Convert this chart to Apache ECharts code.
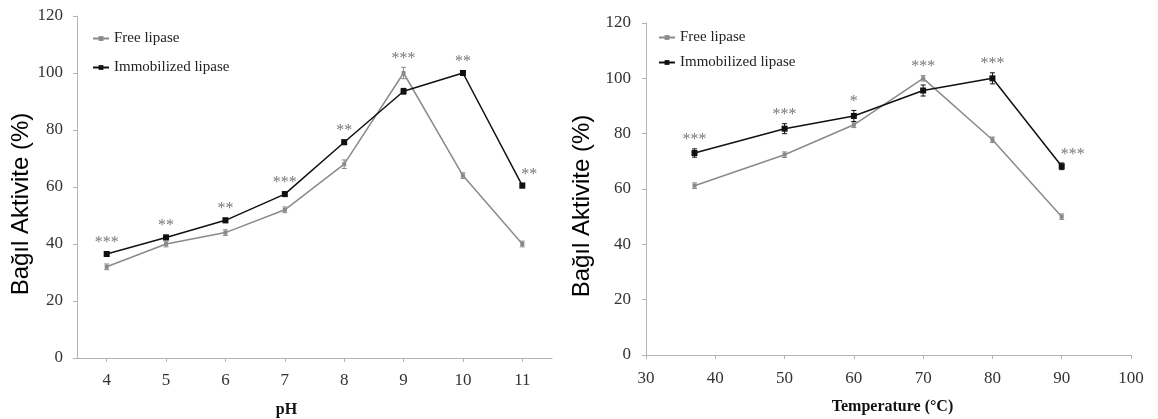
<!DOCTYPE html>
<html>
<head>
	<meta charset="utf-8">
	<title>Bağıl Aktivite</title>
	<style type="text/css">
		body{
			margin: 0px;
			background: #fff;
		}
		.chart{
			width: 1158px;
			height: 419px;
		}
	</style>
	<script type="text/javascript" src="https://cdn.jsdelivr.net/npm/echarts@6/dist/echarts.min.js"></script>
</head>
<body>
	<div id="chart" class="chart"></div>
	<script type="text/javascript">
		// pH chart
		var phLabels = ['4', '5', '6', '7', '8', '9', '10', '11'];
		var phFree = [32, 40, 44, 52, 68, 100, 64, 40];
		var phFreeErr = [1, 1, 1, 1, 1.5, 2, 1, 1];
		var phImmob = [36.5, 42.3, 48.3, 57.5, 75.7, 93.6, 100, 60.5];
		var phImmobErr = [0.8, 0.8, 0.8, 0.8, 0.8, 1, 0.8, 0.8];
		var phSig = ['***', '**', '**', '***', '**', '***', '**', '**'];

		// temperature chart
		var temps = [37, 50, 60, 70, 80, 90];
		var tFree = [61.2, 72.4, 83.2, 100, 77.8, 50];
		var tFreeErr = [1, 1, 1, 1, 1, 1];
		var tImmob = [73, 81.8, 86.4, 95.6, 100, 68.2];
		var tImmobErr = [1.5, 1.8, 2, 2, 2, 1.2];
		var tSig = ['***', '***', '*', '***', '***', '***'];

		var freeColor = '#8a8a8a';
		var immobColor = '#111';
		var serif = 'Liberation Serif';

		function pairs(xs, ys){
			return ys.map(function(y, i){ return [xs[i], y]; });
		}
		function errData(xs, ys, es){
			return ys.map(function(y, i){ return [xs[i], y - es[i], y + es[i]]; });
		}
		function errRender(color){
			return function(params, api){
				var lo = api.coord([api.value(0), api.value(1)]);
				var hi = api.coord([api.value(0), api.value(2)]);
				var w = 2.5;
				var st = {stroke: color, lineWidth: 1};
				return {
					type: 'group',
					children: [
						{type: 'line', shape: {x1: lo[0], y1: lo[1], x2: hi[0], y2: hi[1]}, style: st},
						{type: 'line', shape: {x1: lo[0] - w, y1: lo[1], x2: lo[0] + w, y2: lo[1]}, style: st},
						{type: 'line', shape: {x1: hi[0] - w, y1: hi[1], x2: hi[0] + w, y2: hi[1]}, style: st}
					]
				};
			};
		}
		function sigData(xs, a, ae, b, be, sig){
			return xs.map(function(x, i){
				var top = Math.max(a[i] + ae[i], b[i] + be[i]);
				var item = {value: [x, top], label: {formatter: sig[i]}};
				if(i === xs.length - 1){
					item.label.position = 'right';
					item.label.offset = [-2, -8];
				}
				return item;
			});
		}

		var axisLineGray = {show: true, lineStyle: {color: '#b4b4b4', width: 1}};
		var tickLabel = {fontFamily: serif, fontSize: 17, color: '#333'};
		var yName = 'Bağıl Aktivite (%)';
		var yNameStyle = {fontFamily: 'Liberation Sans', fontSize: 24, color: '#000', padding: [0, 0, 0, -34]};

		window.onload = function(){
			var chart = echarts.init(document.getElementById('chart'));
			var phIdx = phLabels.map(function(l, i){ return i; });
			chart.setOption({
				animation: false,
				backgroundColor: '#fff',
				grid: [
					{left: 77, right: 606, top: 16, bottom: 61, outerBoundsMode: 'none'},
					{left: 646, right: 27, top: 23, bottom: 64, outerBoundsMode: 'none'}
				],
				legend: [
					{
						data: ['Free lipase', 'Immobilized lipase'],
						orient: 'vertical',
						left: 87, top: 26,
						itemGap: 14, itemWidth: 16, itemHeight: 6,
						textStyle: {fontFamily: serif, fontSize: 15, color: '#222'}
					},
					{
						data: ['Free lipase ', 'Immobilized lipase '],
						orient: 'vertical',
						left: 653, top: 25,
						itemGap: 10, itemWidth: 16, itemHeight: 6,
						textStyle: {fontFamily: serif, fontSize: 15, color: '#222'}
					}
				],
				xAxis: [
					{
						gridIndex: 0, type: 'category', data: phLabels,
						boundaryGap: true,
						axisLine: axisLineGray,
						axisTick: {show: true, alignWithLabel: true, length: 4, lineStyle: {color: '#b4b4b4'}},
						axisLabel: Object.assign({margin: 14}, tickLabel),
						name: 'pH', nameLocation: 'middle', nameGap: 44,
						nameTextStyle: {fontFamily: serif, fontSize: 16, fontWeight: 'bold', color: '#111', padding: [0, 56, 0, 0]}
					},
					{
						gridIndex: 1, type: 'value', min: 30, max: 100, interval: 10,
						splitLine: {show: false},
						axisLine: axisLineGray,
						axisTick: {show: true, length: 4, lineStyle: {color: '#b4b4b4'}},
						axisLabel: Object.assign({margin: 15}, tickLabel),
						name: 'Temperature (°C)', nameLocation: 'middle', nameGap: 44,
						nameTextStyle: {fontFamily: serif, fontSize: 16, fontWeight: 'bold', color: '#111', padding: [0, 0, 0, 8]}
					}
				],
				yAxis: [
					{
						gridIndex: 0, type: 'value', min: 0, max: 120, interval: 20,
						splitLine: {show: false},
						axisLine: axisLineGray,
						axisTick: {show: true, length: 4, lineStyle: {color: '#b4b4b4'}},
						axisLabel: Object.assign({margin: 14}, tickLabel),
						name: yName, nameLocation: 'middle', nameGap: 44,
						nameTextStyle: yNameStyle
					},
					{
						gridIndex: 1, type: 'value', min: 0, max: 120, interval: 20,
						splitLine: {show: false},
						axisLine: axisLineGray,
						axisTick: {show: true, length: 4, lineStyle: {color: '#b4b4b4'}},
						axisLabel: Object.assign({margin: 15}, tickLabel),
						name: yName, nameLocation: 'middle', nameGap: 52,
						nameTextStyle: yNameStyle
					}
				],
				series: [
					{
						name: 'Free lipase', type: 'line', xAxisIndex: 0, yAxisIndex: 0,
						data: phFree, symbol: 'rect', symbolSize: 4,
						lineStyle: {color: freeColor, width: 1.5}, itemStyle: {color: freeColor}, z: 3
					},
					{
						name: 'Immobilized lipase', type: 'line', xAxisIndex: 0, yAxisIndex: 0,
						data: phImmob, symbol: 'rect', symbolSize: 6,
						lineStyle: {color: immobColor, width: 1.5}, itemStyle: {color: immobColor}, z: 4
					},
					{
						type: 'custom', xAxisIndex: 0, yAxisIndex: 0, z: 5,
						renderItem: errRender(freeColor), data: errData(phIdx, phFree, phFreeErr)
					},
					{
						type: 'custom', xAxisIndex: 0, yAxisIndex: 0, z: 5,
						renderItem: errRender(immobColor), data: errData(phIdx, phImmob, phImmobErr)
					},
					{
						type: 'scatter', xAxisIndex: 0, yAxisIndex: 0, symbolSize: 0,
						data: sigData(phIdx, phFree, phFreeErr, phImmob, phImmobErr, phSig),
						label: {show: true, position: 'top', distance: 1, fontFamily: serif, fontSize: 16, color: '#555'}
					},
					{
						name: 'Free lipase ', type: 'line', xAxisIndex: 1, yAxisIndex: 1,
						data: pairs(temps, tFree), symbol: 'rect', symbolSize: 4,
						lineStyle: {color: freeColor, width: 1.5}, itemStyle: {color: freeColor}, z: 3
					},
					{
						name: 'Immobilized lipase ', type: 'line', xAxisIndex: 1, yAxisIndex: 1,
						data: pairs(temps, tImmob), symbol: 'rect', symbolSize: 6,
						lineStyle: {color: immobColor, width: 1.5}, itemStyle: {color: immobColor}, z: 4
					},
					{
						type: 'custom', xAxisIndex: 1, yAxisIndex: 1, z: 5,
						renderItem: errRender(freeColor), data: errData(temps, tFree, tFreeErr)
					},
					{
						type: 'custom', xAxisIndex: 1, yAxisIndex: 1, z: 5,
						renderItem: errRender(immobColor), data: errData(temps, tImmob, tImmobErr)
					},
					{
						type: 'scatter', xAxisIndex: 1, yAxisIndex: 1, symbolSize: 0,
						data: sigData(temps, tFree, tFreeErr, tImmob, tImmobErr, tSig),
						label: {show: true, position: 'top', distance: 1, fontFamily: serif, fontSize: 16, color: '#555'}
					}
				]
			});
		}
	</script>
</body>
</html>
